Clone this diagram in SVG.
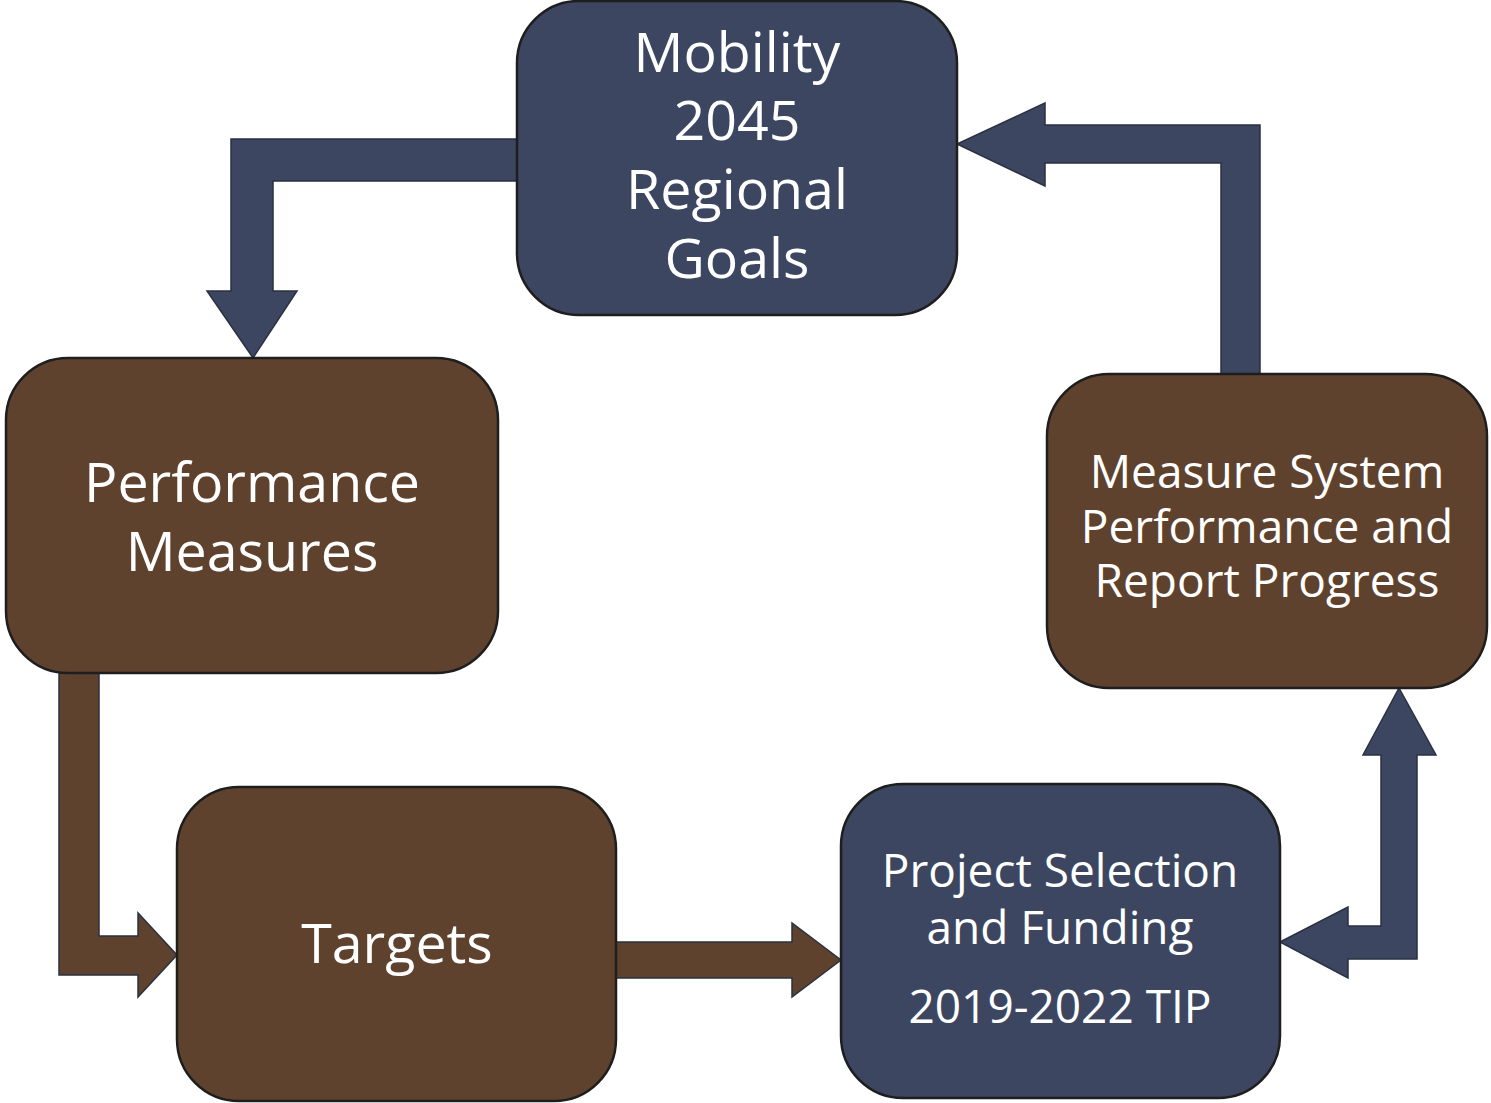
<svg xmlns="http://www.w3.org/2000/svg" width="1491" height="1103" viewBox="0 0 1491 1103">
  <style>
    .blue { fill: #3c4660; }
    .brown { fill: #5f422e; }
    .box { stroke: #1e1e1e; stroke-width: 2.5; }
    .arrow { stroke: #2a3142; stroke-width: 1.5; stroke-linejoin: miter; }
    .label { font-family: "Open Sans", "Liberation Sans", sans-serif; fill: #ffffff; text-anchor: middle; }
    .big { font-size: 55.5px; }
    .mid { font-size: 46px; }
  </style>
  <rect width="1491" height="1103" fill="#ffffff"/>

  <!-- block arrows between the steps -->
  <g id="connectors">
    <path class="arrow blue" d="M517,139 L231,139 L231,291 L207,291 L253,358 L297,291 L273,291 L273,181 L517,181 Z"/>
    <path class="arrow blue" d="M1260,374 L1260,125 L1045,125 L1045,103 L957,144 L1045,186 L1045,163 L1221,163 L1221,374 Z"/>
    <path class="arrow brown" d="M59,673 L59,975 L138,975 L138,997 L177,955 L138,913 L138,936 L99,936 L99,673 Z"/>
    <path class="arrow brown" stroke="#1e1e1e" d="M616,942 L792,942 L792,923 L841,960 L792,997 L792,978 L616,978 Z"/>
    <path class="arrow blue" d="M1280,942 L1348,907 L1348,926 L1381,926 L1381,755 L1363,755 L1399,688 L1436,755 L1417,755 L1417,959 L1348,959 L1348,978 Z"/>
  </g>

  <g id="goals">
    <rect class="box blue" x="517" y="1" width="440" height="314" rx="62"/>
    <text class="label big" x="737" y="72" font-size="57">Mobility</text>
    <text class="label big" x="737" y="140" font-size="57">2045</text>
    <text class="label big" x="737" y="209" font-size="57">Regional</text>
    <text class="label big" x="737" y="278" font-size="57">Goals</text>
  </g>

  <g id="performance-measures">
    <rect class="box brown" x="6" y="358" width="492" height="315" rx="62"/>
    <text class="label big" x="252" y="502">Performance</text>
    <text class="label big" x="252" y="571">Measures</text>
  </g>

  <g id="targets">
    <rect class="box brown" x="177" y="787" width="439" height="314" rx="62"/>
    <text class="label big" x="397" y="963" font-size="54.5">Targets</text>
  </g>

  <g id="project-selection">
    <rect class="box blue" x="841" y="784" width="439" height="314" rx="62"/>
    <text class="label mid" x="1060" y="887" font-size="47">Project Selection</text>
    <text class="label mid" x="1060" y="944" font-size="47">and Funding</text>
    <text class="label mid" x="1060" y="1023" font-size="47">2019-2022 TIP</text>
  </g>

  <g id="measure-system">
    <rect class="box brown" x="1047" y="374" width="440" height="314" rx="62"/>
    <text class="label mid" x="1267" y="488">Measure System</text>
    <text class="label mid" x="1267" y="543">Performance and</text>
    <text class="label mid" x="1267" y="597">Report Progress</text>
  </g>
</svg>
